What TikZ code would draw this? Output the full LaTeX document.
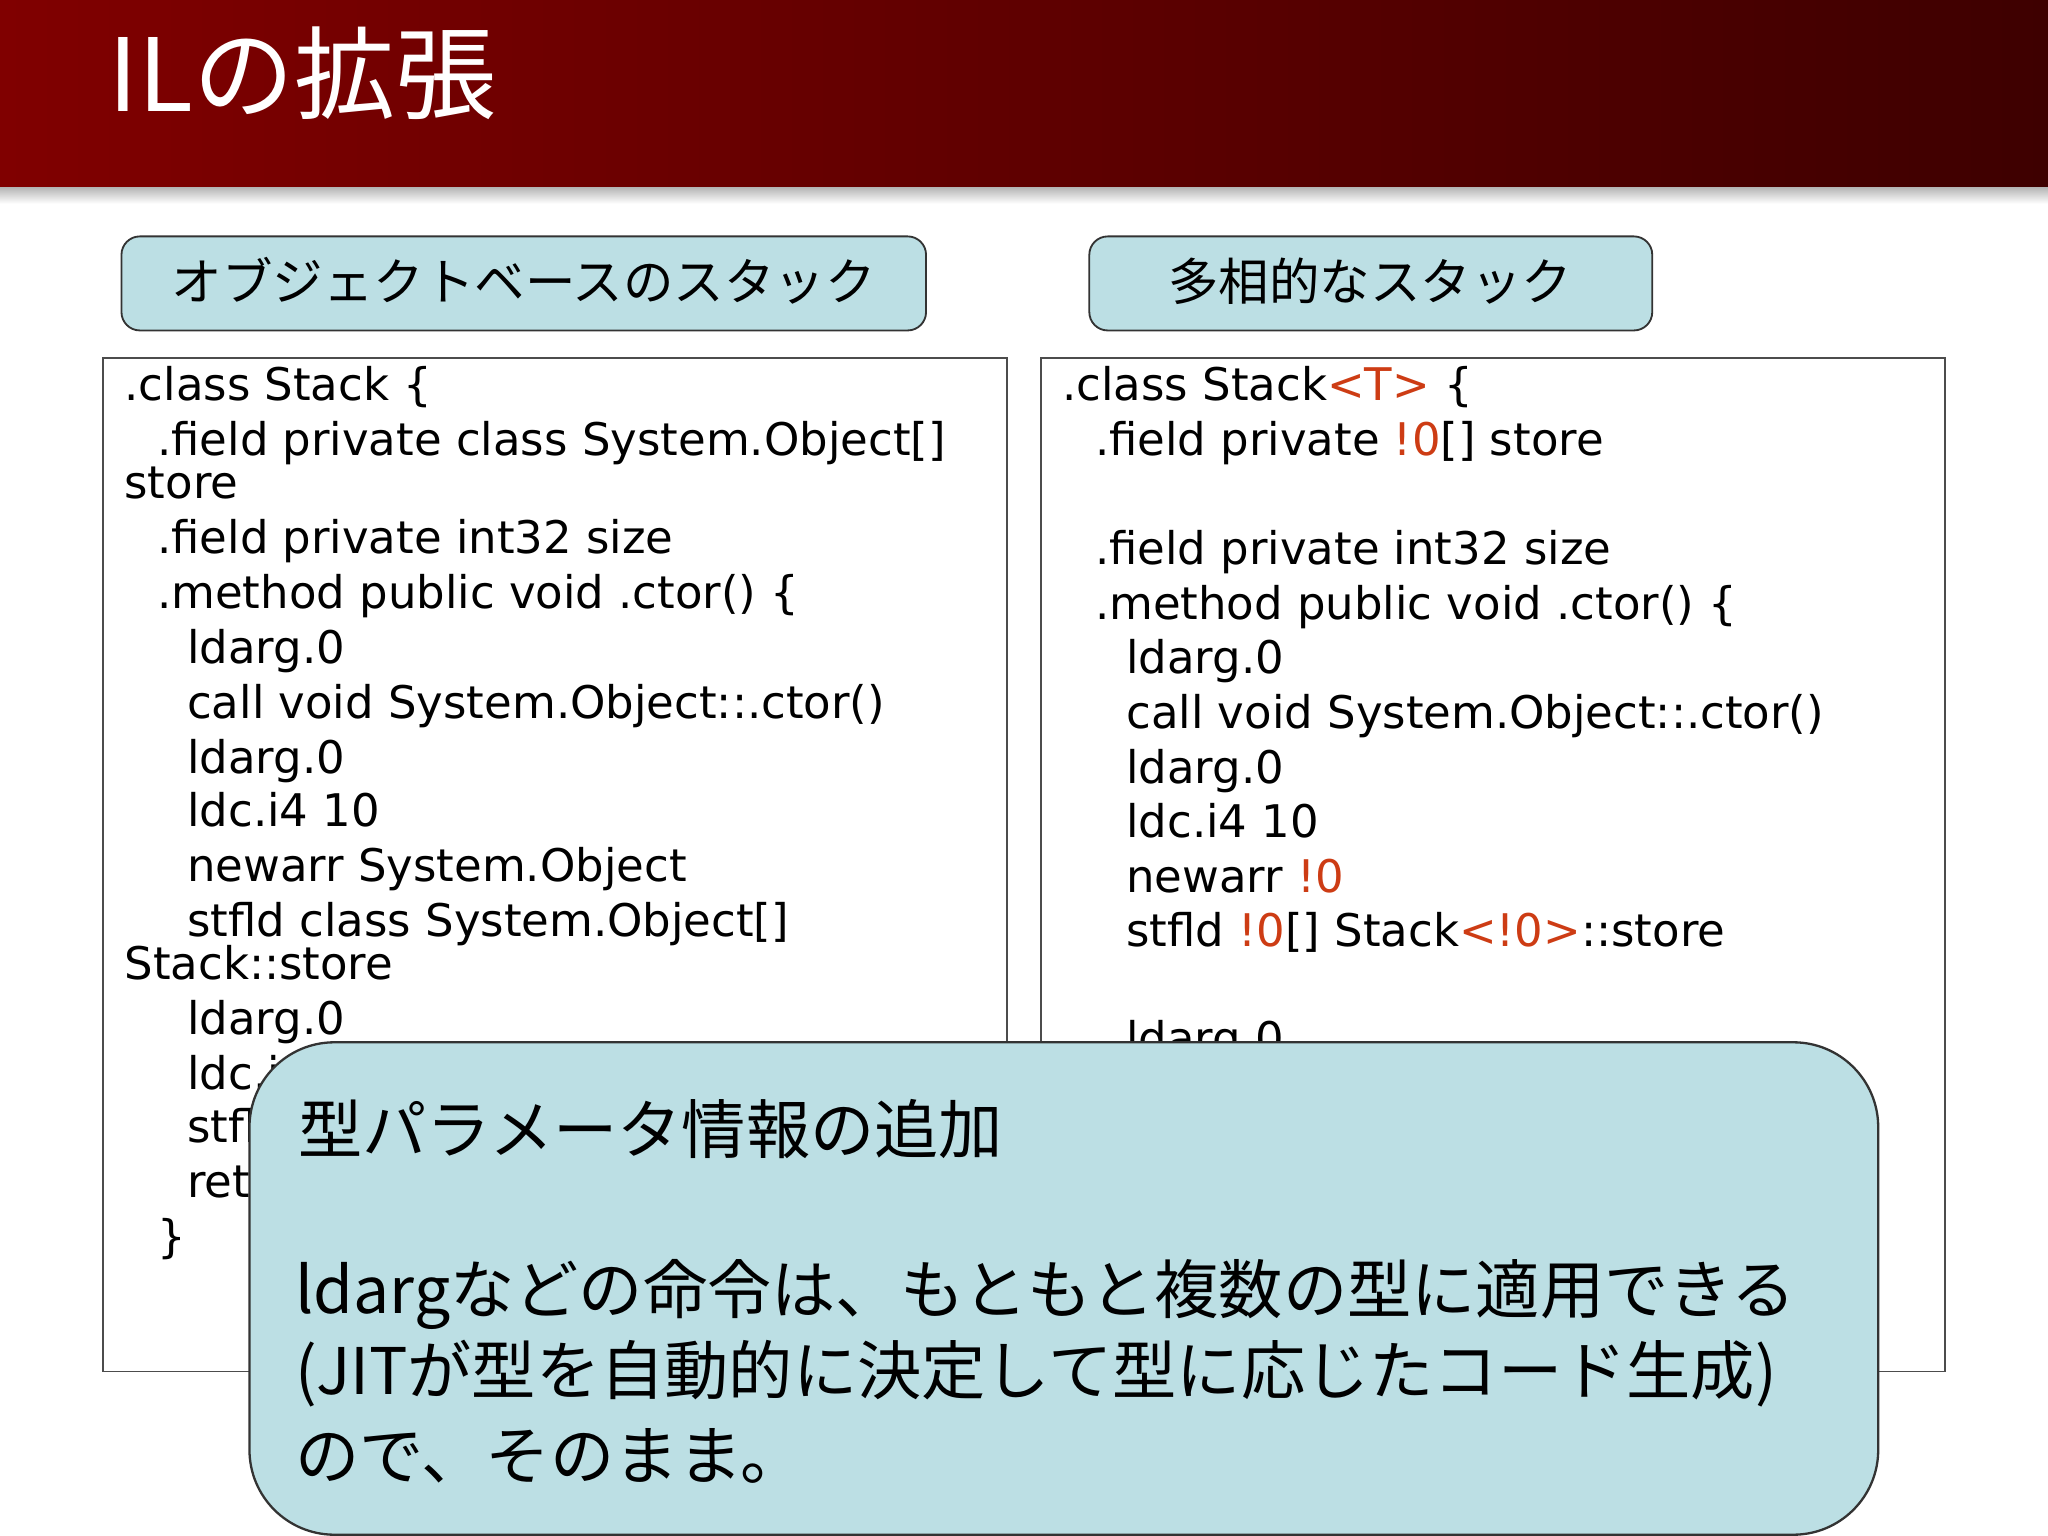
\documentclass[tikz,border=0pt]{standalone}
\usepackage{fontspec}
\setmainfont{DejaVu Sans}
\newfontfamily\jp{Noto Sans CJK JP}
\usetikzlibrary{shadings}
\definecolor{bar1}{RGB}{128,0,0}
\definecolor{bar2}{RGB}{62,0,0}
\definecolor{boxblue}{RGB}{188,223,228}
\definecolor{accent}{RGB}{205,60,20}
\begin{document}
\begin{tikzpicture}[x=0.02cm,y=-0.02cm,
  code/.style={anchor=base west,inner sep=0pt,font=\fontsize{19.6}{23}\selectfont},
  hdr/.style={draw=black!80,fill=boxblue,rounded corners=8pt,line width=0.8pt},
  panel/.style={draw=black!70,fill=white,line width=0.8pt},
  jtext/.style={anchor=base west,inner sep=0pt,font=\jp\fontsize{28}{32}\selectfont}]
\useasboundingbox (0,0) rectangle (1568,1176);
\fill[white] (0,0) rectangle (1568,1176);
\shade[top color=black!30,bottom color=white] (0,143) rectangle (1568,156);
\shade[left color=bar1,right color=bar2] (0,0) rectangle (1568,143);
\node[anchor=base west,inner sep=0pt,text=white,font=\jp\fontsize{44}{50}\selectfont] (title) at (83,85) {ILの拡張};
% headers
\draw[hdr] (93,181) rectangle (709,253);
\node[font=\jp\fontsize{22}{26}\selectfont] (h1) at (401,215) {オブジェクトベースのスタック};
\draw[hdr] (834,181) rectangle (1265,253);
\node[font=\jp\fontsize{22}{26}\selectfont] (h2) at (1049,215) {多相的なスタック};
% panels
\draw[panel] (79,274) rectangle (771,1050);
\draw[panel] (797,274) rectangle (1489,1050);
% left code
\node[code] (l1) at (95,307) {.class Stack \{};
\node[code] (l2) at (120,349) {.field private class System.Object[]};
\node[code] (l3) at (95,382) {store};
\node[code] (l4) at (120,424) {.field private int32 size};
\node[code] (l5) at (120,466) {.method public void .ctor() \{};
\node[code] (l6) at (143,508) {ldarg.0};
\node[code] (l7) at (143,550) {call void System.Object::.ctor()};
\node[code] (l8) at (143,592) {ldarg.0};
\node[code] (l9) at (143,633) {ldc.i4 10};
\node[code] (l10) at (143,675) {newarr System.Object};
\node[code] (l11) at (143,717) {stfld class System.Object[]};
\node[code] (l12) at (95,750) {Stack::store};
\node[code] (l13) at (143,792) {ldarg.0};
\node[code] (l14) at (143,834) {ldc.i4.0};
\node[code] (l15) at (143,875) {stfld int32 Stack::size};
\node[code] (l16) at (143,917) {ret};
\node[code] (l17) at (120,959) {\}};
% right code
\node[code] (r1) at (813,307) {.class Stack\textcolor{accent}{<T>} \{};
\node[code] (r2) at (838,349) {.field private \textcolor{accent}{!0}[] store};
\node[code] (r3) at (838,432) {.field private int32 size};
\node[code] (r4) at (838,474) {.method public void .ctor() \{};
\node[code] (r5) at (862,516) {ldarg.0};
\node[code] (r6) at (862,558) {call void System.Object::.ctor()};
\node[code] (r7) at (862,600) {ldarg.0};
\node[code] (r8) at (862,641) {ldc.i4 10};
\node[code] (r9) at (862,683) {newarr \textcolor{accent}{!0}};
\node[code] (r10) at (862,725) {stfld \textcolor{accent}{!0}[] Stack\textcolor{accent}{<!0>}::store};
\node[code] (r11) at (862,807) {ldarg.0};
% callout
\draw[draw=black!80,fill=boxblue,line width=1pt,rounded corners=1.3cm] (191,798) rectangle (1438,1175);
\node[jtext] (c1) at (228,883) {型パラメータ情報の追加};
\node[jtext] (c2) at (226,1006) {ldargなどの命令は、もともと複数の型に適用できる};
\node[jtext] (c3) at (226,1068) {(JITが型を自動的に決定して型に応じたコード生成)};
\node[jtext] (c4) at (226,1133) {ので、そのまま。};
\end{tikzpicture}
\end{document}
